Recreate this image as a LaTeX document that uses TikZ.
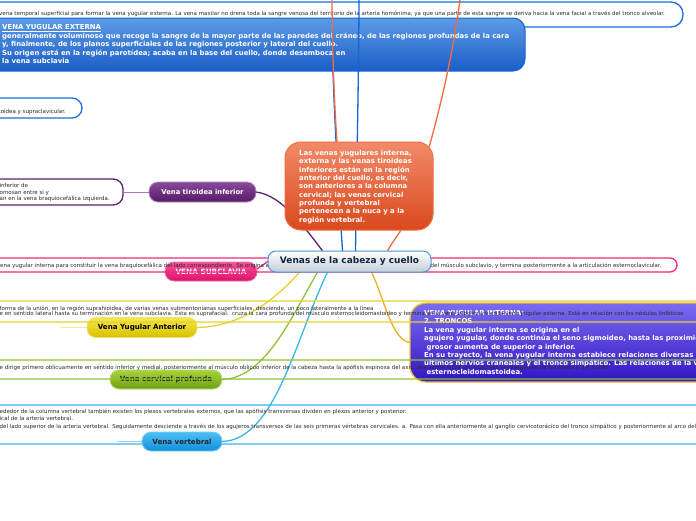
\documentclass[tikz,border=0pt]{standalone}
\usepackage{fontspec}
\setmainfont{DejaVu Sans}
\definecolor{notegray}{HTML}{2A2A2A}
\definecolor{blueNote}{HTML}{1A6FE0}
\definecolor{blueTop}{HTML}{5D9BE6}
\definecolor{blueBot}{HTML}{1B5EC6}
\definecolor{blueLine}{HTML}{1565D8}
\definecolor{orTop}{HTML}{F28A68}
\definecolor{orBot}{HTML}{D9491D}
\definecolor{orLine}{HTML}{F26A40}
\definecolor{rootBot}{HTML}{C5CDD6}
\definecolor{rootLine}{HTML}{4B96D6}
\definecolor{rootText}{HTML}{13243E}
\definecolor{puTop}{HTML}{8A4A9A}
\definecolor{puBot}{HTML}{561A66}
\definecolor{puLine}{HTML}{B890C8}
\definecolor{puNote}{HTML}{5C2270}
\definecolor{piTop}{HTML}{F5559A}
\definecolor{piBot}{HTML}{DE106A}
\definecolor{piLine}{HTML}{F070A8}
\definecolor{piNote}{HTML}{F0287A}
\definecolor{yeTop}{HTML}{F5E84A}
\definecolor{yeBot}{HTML}{D8C000}
\definecolor{yeLine}{HTML}{F0E070}
\definecolor{yeNote}{HTML}{E6D230}
\definecolor{yeTail}{HTML}{F5EB90}
\definecolor{inTop}{HTML}{7A6CF0}
\definecolor{inBot}{HTML}{3214C4}
\definecolor{inLine}{HTML}{F0C030}
\definecolor{inConn}{HTML}{F0B020}
\definecolor{grTop}{HTML}{A6D43A}
\definecolor{grBot}{HTML}{6FA012}
\definecolor{grLine}{HTML}{B8DC70}
\definecolor{grNote}{HTML}{8FC23A}
\definecolor{lbTop}{HTML}{4CC0F5}
\definecolor{lbBot}{HTML}{128FDC}
\definecolor{lbLine}{HTML}{80CCF2}
\definecolor{lbNote}{HTML}{3AB4EE}
\definecolor{lbTail}{HTML}{90D4F5}
\begin{document}
\begin{tikzpicture}[x=1pt,y=-1pt,
  notebox/.style={draw, line width=1.3pt, rounded corners=#1, inner sep=0pt},
  ntext/.style={anchor=base west, inner sep=0pt, font=\fontsize{5.5}{6.5}\selectfont, text=notegray},
  wtext/.style={anchor=base west, inner sep=0pt, font=\bfseries\fontsize{6.9}{8}\selectfont, text=white},
  topic/.style={rounded corners=9pt, draw, line width=0.8pt, inner sep=0pt, font=\bfseries\fontsize{7.1}{8}\selectfont},
  conn/.style={line width=1.3pt}]
\useasboundingbox (0,0) rectangle (696,520);
\clip (0,0) rectangle (696,520);
\fill[white] (0,0) rectangle (696,520);

% top note
\node[notebox=12pt, draw=blueNote, minimum width=703pt, minimum height=25pt] (topnote) at (331.5,14.5) {};
\node[ntext] (topnoteT) at (-1,15.3) {vena temporal superficial para formar la vena yugular externa. La vena maxilar no drena toda la sangre venosa del territorio de la arteria homónima, ya que una parte de esta sangre se deriva hacia la vena facial a través del tronco alveolar.};

% blue box VENA YUGULAR EXTERNA
\node[rounded corners=12pt, draw=blueLine, line width=1pt, top color=blueTop, bottom color=blueBot, minimum width=545pt, minimum height=53pt, inner sep=0pt] (je) at (252.5,44.5) {};
\foreach \t [count=\i] in {{\underline{VENA YUGULAR EXTERNA}},
  {generalmente voluminoso que recoge la sangre de la mayor parte de las paredes del cráneo, de las regiones profundas de la cara},
  {y, finalmente, de los planos superficiales de las regiones posterior y lateral del cuello.},
  {Su origen está en la región parotídea; acaba en la base del cuello, donde desemboca en},
  {la vena subclavia}}
  \node[wtext] (je\i) at (2,{29.5+8.5*(\i-1)}) {\t};

% geometry helpers for connectors
\path (359,186) node[minimum width=148pt, minimum height=88pt, inner sep=0pt] (oboxg) {};
\node[minimum width=163pt, minimum height=21pt, inner sep=0pt] (rootg) at (349.5,261.5) {};

\coordinate (jeIn) at (333,71);
\coordinate (topB) at (359,-8);
\coordinate (topO1) at (332,-8);
\coordinate (topO2) at (461,-8);

% connectors
\draw[conn, blueLine] ([xshift=-7pt]rootg.north) .. controls (338,180) and (334,110) .. (jeIn);
\draw[conn, blueLine] ([xshift=6pt]rootg.north) .. controls (357,150) and (359,60) .. (topB);
\draw[conn, orLine] ([xshift=-22pt]oboxg.north) .. controls (334,100) and (332,40) .. (topO1);
\draw[conn, orLine] ([xshift=-4pt,yshift=-5pt]oboxg.north east) .. controls (445,90) and (455,40) .. (topO2);
\draw[conn, orLine] ([xshift=38pt]rootg.north) .. controls (392,243) and (397,236) .. ([xshift=42pt]oboxg.south);
\draw[conn, puNote] ([xshift=-27pt]rootg.north) .. controls (305,228) and (282,195) .. (256,192);
\draw[conn, yeNote] ([xshift=-50pt]rootg.south) .. controls (275,300) and (240,327) .. (197,327.5);
\draw[conn, grNote] ([xshift=-32pt]rootg.south) .. controls (290,320) and (265,378) .. (222,379.5);
\draw[conn, lbNote] ([xshift=-22pt]rootg.south) .. controls (295,340) and (275,440) .. (222,441.5);
\draw[conn, inConn] ([xshift=22pt]rootg.south) .. controls (385,300) and (392,342) .. (411,342.5);
\draw[conn, piNote] (rootg.west) -- (257,269);

% orange box
\node[rounded corners=16pt, draw=orLine, line width=1pt, top color=orTop, bottom color=orBot, minimum width=148pt, minimum height=88pt, inner sep=0pt] (obox) at (359,186) {};
\foreach \t [count=\i] in {{Las venas yugulares interna,},{externa y las venas tiroideas},{inferiores están en la región},{anterior del cuello, es decir,},{son anteriores a la columna},{cervical; las venas cervical},{profunda y vertebral},{pertenecen a la nuca y a la},{región vertebral.}}
  \node[wtext] (ob\i) at (299,{155.5+8.33*(\i-1)}) {\t};

% second blue note
\node[notebox=10pt, draw=blueNote, minimum width=102pt, minimum height=20pt] (note2) at (31,108) {};
\node[ntext, anchor=base east] (note2T) at (66,113.2) {toidea y supraclavicular.};

% purple note + tiroidea
\node[notebox=10pt, draw=puNote, minimum width=143pt, minimum height=26pt] (note3) at (51.5,192) {};
\node[ntext] (note3a) at (-0.5,187.5) {inferior de};
\node[ntext] (note3b) at (-0.5,194.2) {omosan entre sí y};
\node[ntext] (note3c) at (-0.5,200.7) {an en la vena braquiocefálica izquierda.};
\node[topic, draw=puLine, top color=puTop, bottom color=puBot, text=white, minimum width=107pt, minimum height=20pt, font=\bfseries\fontsize{6.8}{8}\selectfont] (tiro) at (202.5,192) {Vena tiroidea inferior};
\draw[line width=1pt, puLine!80!puNote] (note3.east) -- (tiro.west);

% subclavia
\node[topic, draw=piLine, top color=piTop, bottom color=piBot, text=white, minimum width=92pt, minimum height=19pt, font=\bfseries\fontsize{7.3}{8}\selectfont] (subc) at (211,271.5) {VENA SUBCLAVIA};
\node[notebox=7pt, draw=piNote, minimum width=697pt, minimum height=14pt] (pinknote) at (328.5,265) {};
\node[ntext] (pinkA) at (0,267) {ena yugular interna para constituir la vena braquiocefálica del lado correspondiente. Se origina a};
\node[ntext] (pinkB) at (430.5,267) {del músculo subclavio, y termina posteriormente a la articulación esternoclavicular.};

% yugular anterior
\node[topic, draw=yeLine, top color=yeTop, bottom color=yeBot, text=black, minimum width=110pt, minimum height=20pt] (yant) at (142,327.5) {Vena Yugular Anterior};
\coordinate (yaTail) at (60,327.5);
\draw[line width=1.2pt, yeTail] (yaTail) -- (yant.west);

% cervical profunda
\node[topic, draw=grLine, top color=grTop, bottom color=grBot, text=black!85, minimum width=112pt, minimum height=19pt] (cerv) at (166,379.5) {Vena cervical profunda};

% interna box
\node[rounded corners=16pt, draw=inLine, line width=1.3pt, top color=inTop, bottom color=inBot, minimum width=306pt, minimum height=79pt, inner sep=0pt] (ibox) at (563,342.5) {};
\foreach \t [count=\i] in {{VENA YUGULAR INTERNA:},{2. TRONCOS},{La vena yugular interna se origina en el},{agujero yugular, donde continúa el seno sigmoideo, hasta las proximidades},{\ grosor aumenta de superior a inferior.},{En su trayecto, la vena yugular interna establece relaciones diversas},{últimos nervios craneales y el tronco simpático. Las relaciones de la vena},{\ esternocleidomastoidea.}}
  \node[wtext] (in\i) at (424,{315.5+8.4*(\i-1)}) {\t};

% yellow note
\node[notebox=9pt, draw=yeNote, minimum width=740pt, minimum height=21pt] (yenote) at (350,311.5) {};
\node[ntext] (yeA) at (-0.5,310.2) {forma de la unión, en la región suprahioidea, de varias venas submentonianas superficiales, desciende, un poco lateralmente a la línea};
\node[ntext] (yeB) at (-0.5,315.8) {e en sentido lateral hasta su terminación en la vena subclavia. Esta es suprafacial.\ \ cruza la cara profunda del músculo esternocleidomastoideo y termina en la vena subclavia o en la vena yugular externa. Está en relación con los nódulos linfáticos};

% green note
\node[notebox=9pt, draw=grNote, minimum width=740pt, minimum height=19pt] (grnote) at (350,369.5) {};
\node[ntext] (grA) at (-0.5,369.6) {e dirige primero oblicuamente en sentido inferior y medial, posteriormente al músculo oblicuo inferior de la cabeza hasta la apófisis espinosa del axis. desciende entre los músculos semiespinoso de la cabeza y del cuello};

% vertebral note + node
\node[notebox=10pt, draw=lbNote, minimum width=740pt, minimum height=39pt] (lbnote) at (350,424.5) {};
\node[ntext] (lbA) at (-0.5,413.8) {ededor de la columna vertebral también existen los plexos vertebrales externos, que las apófisis transversas dividen en plexos anterior y posterior.};
\node[ntext] (lbB) at (-0.5,420.5) {ical de la arteria vertebral.};
\node[ntext] (lbC) at (-0.5,428.2) {del lado superior de la arteria vertebral. Seguidamente desciende a través de los agujeros transversos de las seis primeras vértebras cervicales. a. Pasa con ella anteriormente al ganglio cervicotorácico del tronco simpático y posteriormente al arco del};
\node[topic, draw=lbLine, top color=lbTop, bottom color=lbBot, text=black!85, minimum width=80pt, minimum height=19pt] (vert) at (182,441.5) {Vena vertebral};
\coordinate (vtTail) at (117,441.5);
\draw[line width=1.2pt, lbTail] (vtTail) -- (vert.west);

% root
\node[rounded corners=8pt, draw=rootLine, line width=1pt, top color=white, bottom color=rootBot, text=rootText, font=\bfseries\fontsize{9}{10}\selectfont, minimum width=163pt, minimum height=21pt, inner sep=0pt] (root) at (349.5,261.5) {Venas de la cabeza y cuello};
\end{tikzpicture}
\end{document}
